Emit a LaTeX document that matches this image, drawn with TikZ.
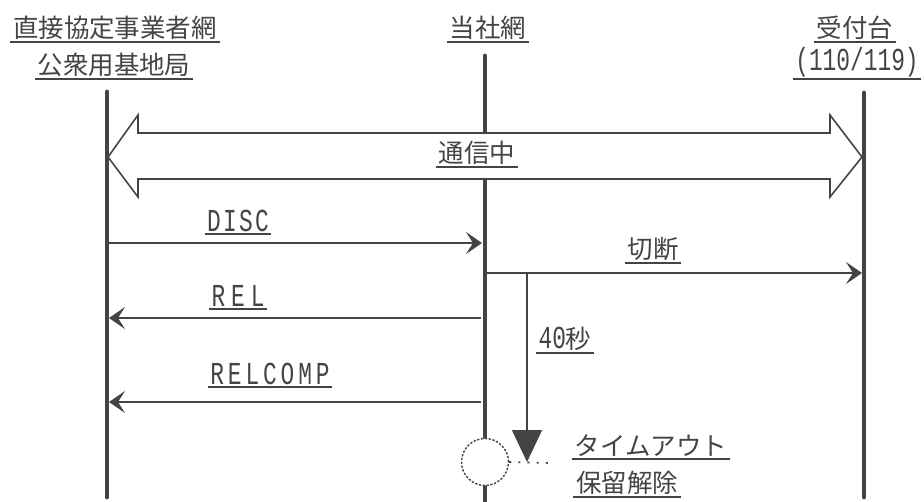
\documentclass[tikz,border=0pt]{standalone}
\usepackage{fontspec}
\setmainfont{Noto Sans CJK JP}
\setmonofont{Liberation Mono}
\usepackage{graphicx}
\usepackage{tikz}
\usetikzlibrary{arrows.meta}
\definecolor{ink}{HTML}{444444}
\newcommand{\tallsc}[1]{\scalebox{1}[1.4]{#1}}

\begin{document}
\begin{tikzpicture}[x=0.02cm,y=-0.02cm,
		jp/.style={font=\fontsize{14.5}{16}\selectfont},
		lat/.style={font=\ttfamily\fontsize{13}{15}\selectfont\addfontfeature{LetterSpace=#1}},
		lat/.default=0,
		lbl/.style={text=ink, anchor=south, inner xsep=1.5pt, inner ysep=1.2pt, outer sep=0pt,
			append after command={(\tikzlastnode.south west) edge[ink, line width=1.1pt] (\tikzlastnode.south east)}},
		life/.style={draw=ink, line width=2.8pt, line cap=round},
		msg/.style={draw=ink, line width=0.9pt, -{Stealth[length=3.2mm,width=4.4mm,inset=1.4mm]}}]
		
		% Frame of the picture
		\useasboundingbox (0,0) rectangle (924,501);
		
		% Define the big two-way arrow
		\def\bigarrow{ (108,157) -- (138,115) -- (138,133) -- (830,133) -- (830,115) -- (862,157)
			-- (830,197) -- (830,179) -- (138,179) -- (138,197) -- cycle};
		
		% Headers
		\node[lbl,jp] (hA1) at (115,42) {直接協定事業者網};
		\node[lbl,jp] (hA2) at (114,79) {公衆用基地局};
		\node[lbl,jp] (hB) at (488,42) {当社網};
		\node[lbl,jp] (hC1) at (855,42) {受付台};
		\node[lbl,lat] (hC2) at (857,79) {\tallsc{(110/119)}};
		
		% Lifelines
		\coordinate (a-top) at (107,92); \coordinate (a-bot) at (107,497);
		\coordinate (b-top) at (485,56); \coordinate (b-bot) at (485,503);
		\coordinate (c-top) at (864,93); \coordinate (c-bot) at (864,497);
		\draw[life] (a-top) -- (a-bot);
		\draw[life] (b-top) -- (b-bot);
		\draw[life] (c-top) -- (c-bot);
		
		% Call in progress
		\filldraw[fill=white, draw=ink, line width=0.9pt] \bigarrow;
		\node[lbl,jp] (talk) at (477,167) {通信中};
		
		% Messages
		\coordinate (disc-a) at (107,243); \coordinate (disc-b) at (482,243);
		\coordinate (cut-a) at (483,273); \coordinate (cut-b) at (862,273);
		\coordinate (rel-a) at (481,318); \coordinate (rel-b) at (109,318);
		\coordinate (relc-a) at (481,402); \coordinate (relc-b) at (109,402);
		\draw[msg] (disc-a) -- (disc-b);
		\draw[msg] (cut-a) -- (cut-b);
		\draw[msg] (rel-a) -- (rel-b);
		\draw[msg] (relc-a) -- (relc-b);
		\node[lbl,lat=10] (l-disc) at (238,234) {\tallsc{DISC}};
		\node[lbl,jp] (l-cut) at (653,263) {切断};
		\node[lbl,lat=26] (l-rel) at (238,309) {\tallsc{REL}};
		\node[lbl,lat=17] (l-relc) at (270,387) {\tallsc{RELCOMP}};
		
		% Timer and hold release
		\node[draw=ink, dash pattern=on 1.3pt off 0.9pt, fill=white, circle, minimum size=0.94cm, inner sep=0pt, line width=0.8pt] (hold) at (485,462) {};
		\coordinate (dots-end) at (549,463);
		\draw[ink, line width=0.9pt, dash pattern=on 1.2pt off 4pt] (hold.east) -- (dots-end);
		\coordinate (t0) at (527,273); \coordinate (t1) at (527,462);
		\draw[ink, line width=0.9pt, -{Triangle[length=6.4mm,width=6mm]}] (t0) -- (t1);
		\node[lbl] (l-40) at (565,353) {\tallsc{\ttfamily\fontsize{13}{15}\selectfont 40}{\fontsize{14.5}{16}\selectfont 秒}};
		\node[lbl,jp] (l-to) at (651,459) {タイムアウト};
		\node[lbl,jp] (l-rls) at (627,497) {保留解除};
	\end{tikzpicture}
\end{document}
